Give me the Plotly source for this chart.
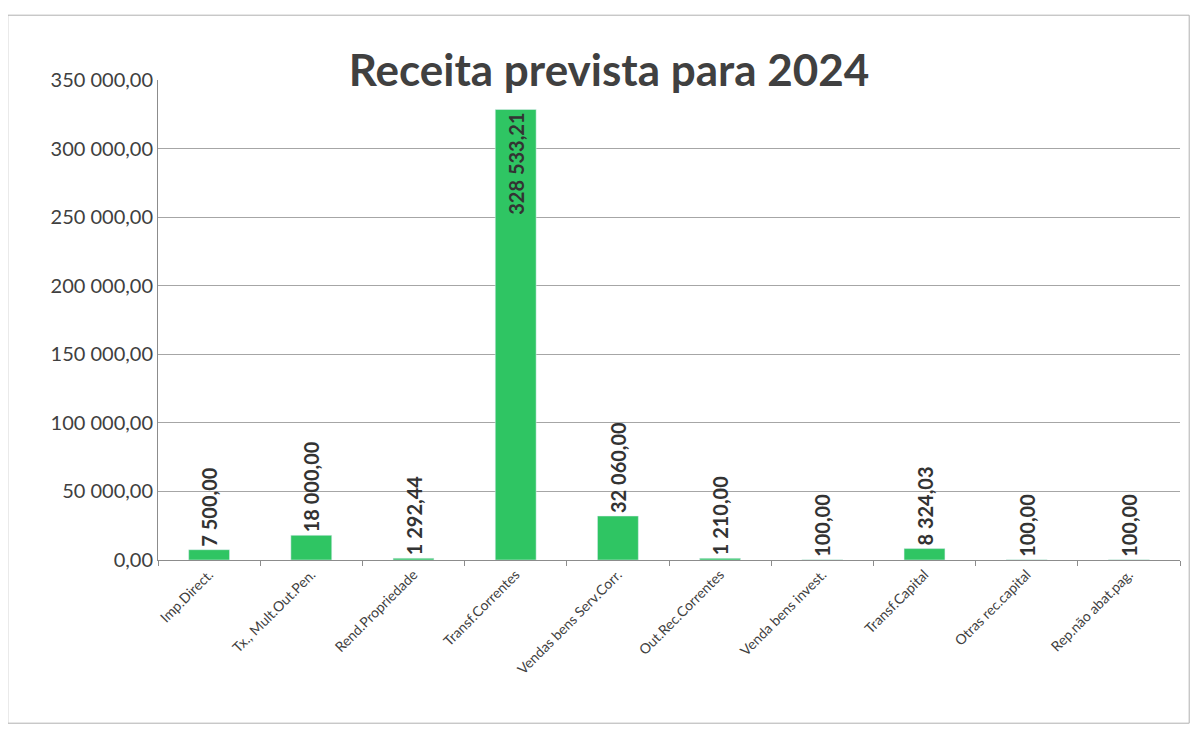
import plotly.graph_objects as go

# Receita prevista 2024
categorias = ["Imp.Direct.", "Tx., Mult.Out.Pen.", "Rend.Propriedade", "Transf.Correntes",
              "Vendas bens Serv.Corr.", "Out.Rec.Correntes", "Venda bens invest.",
              "Transf.Capital", "Otras rec.capital", "Rep.não abat.pag."]
valores = [7500.00, 18000.00, 1292.44, 328533.21, 32060.00, 1210.00, 100.00, 8324.03, 100.00, 100.00]

posicoes = ["inside" if v > 200000 else "outside" for v in valores]

fig = go.Figure()
fig.add_trace(go.Bar(
    x=categorias,
    y=valores,
    marker_color="#2fc563",
    texttemplate="%{y:,.2f}",
    textposition=posicoes,
    textangle=-90,
    insidetextanchor="end",
    textfont=dict(family="Lato", size=20, color="#333333", weight="bold"),
    cliponaxis=False,
))

fig.update_layout(
    width=1183, height=716,
    margin=dict(l=150, r=11, t=72, b=164),
    paper_bgcolor="white", plot_bgcolor="white",
    separators=", ",
    bargap=0.6,
    showlegend=False,
    uniformtext=dict(minsize=20, mode="show"),
    font=dict(family="Lato", color="#404040"),
    title=dict(text="<b>Receita prevista para 2024</b>", x=0.508, xanchor="center",
               y=0.912, yanchor="middle",
               font=dict(family="Lato", size=44, color="#404040")),
)
fig.update_yaxes(
    range=[0, 350000], dtick=50000, tickformat=",.2f",
    showgrid=True, gridcolor="#a6a6a6", gridwidth=1,
    showline=True, linecolor="#8c8c8c",
    tickfont=dict(size=20, color="#404040"),
    zeroline=False,
)
fig.update_xaxes(
    tickangle=-45, tickfont=dict(size=14, color="#404040"),
    showline=True, linecolor="#8c8c8c",
    ticks="outside", tickson="boundaries", ticklen=5, tickcolor="#8c8c8c",
)
fig.add_shape(type="rect", xref="paper", yref="paper",
              x0=-0.147, x1=1.009, y0=-0.34, y1=1.135,
              line=dict(color="#b0b0b0", width=1))

fig.write_html("out.html")
